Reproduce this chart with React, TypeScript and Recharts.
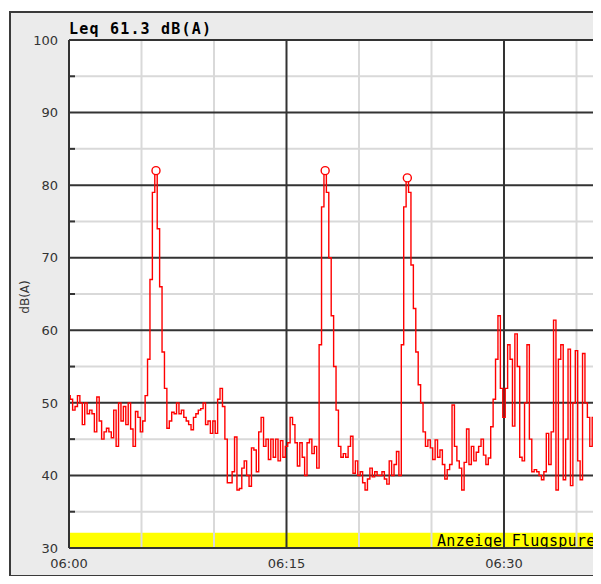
import React from 'react';
import {
  ComposedChart,
  Line,
  Scatter,
  XAxis,
  YAxis,
  ReferenceLine,
  ReferenceArea,
  CartesianGrid,
} from 'recharts';

// one sample every 10 seconds, time in minutes after 06:00
const SAMPLE_MINUTES = 1 / 6;
const X_MAX = 36.69;

const levels0600 = [51, 50.5, 49, 49.5, 51, 50, 47, 50, 48.5, 49, 48.5, 46, 50.8, 47.5, 45, 46, 46.5, 46, 45.2, 49, 44, 50, 47.5, 49.5, 47, 50, 46.4, 44, 48.8, 48];
const levels0605 = [46, 47.5, 51, 56, 67, 79, 82, 74, 66, 57, 52, 46.5, 47.5, 48.7, 48.5, 50, 48.5, 49, 48, 47.5, 47, 46.3, 48, 48.5, 49, 49.2, 50, 47, 47.5, 45.8];
const levels0610 = [47.5, 45.8, 50.5, 52, 49.5, 45, 39, 39, 40.5, 45.3, 38, 38.2, 41, 42, 40, 38.5, 43.8, 43.5, 40.5, 46, 48, 44, 45, 42.2, 45, 42.5, 45, 42, 44.8, 42.5];
const levels0615 = [44, 44.5, 48, 47, 44.5, 41.3, 44.5, 42.5, 40, 44.5, 45, 43, 44, 41, 58, 77, 82, 79, 70, 62, 55, 49, 44, 42.5, 43, 42.5, 44, 45.4, 40.3, 42];
const levels0620 = [40, 40.5, 39, 38, 39.5, 41, 39.8, 40.5, 40, 40, 40.5, 39.5, 38.8, 42, 40, 41.5, 43.3, 40, 58, 77, 81, 79, 69, 63, 57, 52.5, 50, 46, 44, 44.9];
const levels0625 = [43.8, 42.2, 44.9, 42.5, 43.5, 41.5, 39.5, 40.8, 41.5, 49.7, 44, 42, 41, 38, 41.8, 46.4, 41.5, 44, 42, 43.2, 44, 45, 42.8, 41.5, 42.4, 46.7, 50.5, 56, 62, 52];
const levels0630 = [48, 52, 58, 56, 46.8, 59.5, 55, 42.5, 42, 50, 58, 45, 40.5, 40.8, 40.5, 40, 39.4, 40.5, 45.8, 41.5, 46, 61.4, 38, 56, 58, 39.4, 45, 57.4, 38.6, 50];
const levels0635 = [57.2, 42, 39.4, 56.8, 50, 48, 44, 48, 39.6, 40, 40.5];

const peakSampleIndex = [36, 106, 140];

const xTickMinutes = [0, 15, 30];
const xTickLabels = ['06:00', '06:15', '06:30'];
const xMajorGrid = [15, 30];
const xMinorGrid = [5, 10, 20, 25, 35];
const yTicks = [30, 35, 40, 45, 50, 55, 60, 65, 70, 75, 80, 85, 90, 95, 100];
const yMajorGrid = [40, 50, 60, 70, 80, 90, 100];
const yMinorGrid = [35, 45, 55, 65, 75, 85, 95];
const BAND_TOP = 32.1;

const headerText = 'Werte 11.2005 (Montag) :';
const headerLink = 'Flugspuren';
const leqLabel = 'Leq 61.3 dB(A)';
const bandLabel = 'Anzeige Flugspuren';
const yAxisLabel = 'dB(A)';

const levels = [
  ...levels0600,
  ...levels0605,
  ...levels0610,
  ...levels0615,
  ...levels0620,
  ...levels0625,
  ...levels0630,
  ...levels0635,
];
const data = levels.map((v, i) => ({ t: i * SAMPLE_MINUTES, v }));
const peaks = peakSampleIndex.map((i) => data[i]);

const DARK = '#333333';
const LIGHT = '#d9d9d9';

const YTick = (props: any) => {
  const { x, y, payload } = props;
  const v = payload.value;
  if (v % 10 === 0) {
    return (
      <text x={x} y={y} dy="0.36em" textAnchor="end" fill={DARK} fontSize={13} fontFamily="DejaVu Sans">
        {v}
      </text>
    );
  }
  return <line x1={x + 11} x2={x + 17} y1={y} y2={y} stroke={DARK} strokeWidth={2} />;
};

const XTick = (props: any) => {
  const { x, y, payload } = props;
  const idx = xTickMinutes.indexOf(payload.value);
  return (
    <text x={x} y={y} dy="0.71em" textAnchor="middle" fill={DARK} fontSize={13} fontFamily="DejaVu Sans">
      {idx >= 0 ? xTickLabels[idx] : ''}
    </text>
  );
};

const PeakDot = (props: any) => {
  const { cx, cy } = props;
  return <circle cx={cx} cy={cy} r={4} fill="#ffffff" stroke="#ff0000" strokeWidth={1.4} />;
};

const BandLabel = (props: any) => {
  const { viewBox } = props;
  const { x, y, width, height } = viewBox;
  return (
    <text
      x={x + width - 164}
      y={y + height - 2}
      fill="#000000"
      fontSize={15}
      fontFamily="DejaVu Sans Mono"
      letterSpacing={0.3}
    >
      {bandLabel}
    </text>
  );
};

export default function App() {
  return (
    <div style={{ position: 'relative', width: 601, height: 584, margin: -8, overflow: 'hidden', background: '#ffffff' }}>
      <div
        style={{
          position: 'absolute',
          left: 9,
          top: 11,
          width: 700,
          height: 566,
          boxSizing: 'border-box',
          borderTop: '2px solid #3a3a3a',
          borderLeft: '2px solid #3a3a3a',
          borderBottom: '2px solid #3a3a3a',
          borderRight: 'none',
          background: '#ebebeb',
        }}
      />
      <div style={{ position: 'absolute', left: 68, top: 578, width: 640, height: 10, background: '#ffcc00' }} />
      <div style={{ position: 'absolute', left: 0, top: 0 }}>
        <ComposedChart width={601} height={584} data={data} margin={{ top: 40, right: 0, bottom: 0, left: 0 }}>
          <CartesianGrid fill="#ffffff" horizontal={false} vertical={false} />
          <ReferenceArea y1={30} y2={BAND_TOP} fill="#ffff00" fillOpacity={1} stroke="none" ifOverflow="visible" />
          {yMinorGrid.map((v) => (
            <ReferenceLine key={'ym' + v} y={v} stroke={LIGHT} strokeWidth={2} />
          ))}
          {xMinorGrid.map((v) => (
            <ReferenceLine key={'xm' + v} x={v} stroke={LIGHT} strokeWidth={2} />
          ))}
          {yMajorGrid.map((v) => (
            <ReferenceLine key={'yM' + v} y={v} stroke={DARK} strokeWidth={2} />
          ))}
          {xMajorGrid.map((v) => (
            <ReferenceLine key={'xM' + v} x={v} stroke={DARK} strokeWidth={2} />
          ))}
          <ReferenceArea y1={30} y2={BAND_TOP} fill="none" stroke="none" label={<BandLabel />} ifOverflow="visible" />
          <XAxis
            type="number"
            dataKey="t"
            domain={[0, X_MAX]}
            ticks={xTickMinutes}
            height={36}
            tickLine={false}
            tickSize={6}
            tickMargin={5}
            axisLine={{ stroke: DARK, strokeWidth: 2 }}
            tick={<XTick />}
            allowDataOverflow
          />
          <YAxis
            type="number"
            domain={[30, 100]}
            ticks={yTicks}
            width={69}
            tickLine={false}
            tickSize={6}
            tickMargin={5}
            axisLine={{ stroke: DARK, strokeWidth: 2 }}
            tick={<YTick />}
            interval={0}
            allowDataOverflow
          />
          <Line
            type="step"
            dataKey="v"
            stroke="#ff0000"
            strokeWidth={1.4}
            dot={false}
            activeDot={false}
            isAnimationActive={false}
          />
          <Scatter data={peaks} dataKey="v" shape={<PeakDot />} isAnimationActive={false} />
        </ComposedChart>
      </div>
      <svg
        width={601}
        height={584}
        style={{ position: 'absolute', left: 0, top: 0, pointerEvents: 'none' }}
      >
        <text x={14} y={1} fill="#1a1a1a" fontSize={15} fontWeight="bold" fontFamily="DejaVu Sans">
          {headerText}
        </text>
        <text x={262} y={1} fill="#ff0000" fontSize={15} fontWeight="bold" fontFamily="DejaVu Sans" textDecoration="underline">
          {headerLink}
        </text>
        <text x={69} y={34} fill="#000000" fontSize={15} fontWeight="bold" fontFamily="DejaVu Sans Mono" letterSpacing={1.2}>
          {leqLabel}
        </text>
        <text
          x={25}
          y={297}
          transform="rotate(-90 25 297)"
          textAnchor="middle"
          dy="0.35em"
          fill={DARK}
          fontSize={12}
          fontFamily="DejaVu Sans"
        >
          {yAxisLabel}
        </text>
      </svg>
    </div>
  );
}
